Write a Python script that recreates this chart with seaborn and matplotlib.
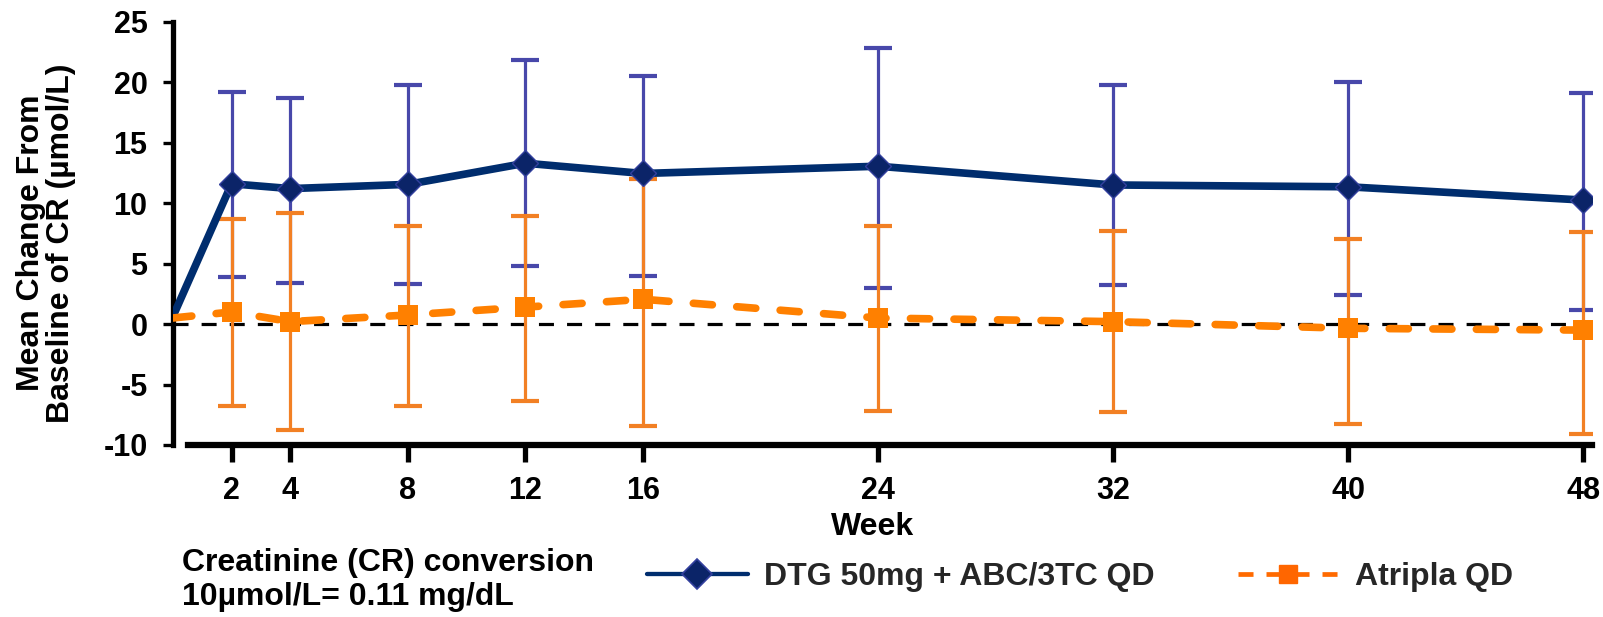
import numpy as np
import pandas as pd
import matplotlib
matplotlib.use("Agg")
import matplotlib.pyplot as plt
from matplotlib.lines import Line2D
import seaborn as sns

# Study weeks and mean change from baseline in creatinine (µmol/L)
weeks = [0, 2, 4, 8, 12, 16, 24, 32, 40, 48]

dtg_mean = [0.6, 11.6, 11.2, 11.55, 13.3, 12.45, 13.05, 11.5, 11.35, 10.25]
dtg_upper = [np.nan, 19.2, 18.65, 19.75, 21.8, 20.5, 22.8, 19.8, 20.0, 19.1]
dtg_lower = [np.nan, 3.9, 3.4, 3.3, 4.8, 4.0, 3.0, 3.2, 2.4, 1.2]

atr_mean = [0.5, 1.0, 0.2, 0.75, 1.4, 2.05, 0.5, 0.2, -0.35, -0.5]
atr_upper = [np.nan, 8.7, 9.15, 8.1, 8.9, 12.0, 8.1, 7.7, 7.0, 7.6]
atr_lower = [np.nan, -6.8, -8.75, -6.75, -6.35, -8.45, -7.15, -7.3, -8.3, -9.05]

arm_names = ["DTG 50mg + ABC/3TC QD", "Atripla QD"]
x_ticks = [2, 4, 8, 12, 16, 24, 32, 40, 48]
y_ticks = [-10, -5, 0, 5, 10, 15, 20, 25]

df = pd.DataFrame({
    "week": weeks * 2,
    "change": dtg_mean + atr_mean,
    "lower": dtg_lower + atr_lower,
    "upper": dtg_upper + atr_upper,
    "arm": [arm_names[0]] * len(weeks) + [arm_names[1]] * len(weeks),
})

sns.set_theme(style="white")
plt.rcParams["font.family"] = ["Liberation Sans", "DejaVu Sans"]
plt.rcParams["font.weight"] = "bold"

TXT = 23
TICK = 22

W, H = 1603, 617
fig = plt.figure(figsize=(W / 100, H / 100), dpi=100)
ax = fig.add_axes([172.8 / W, 1 - 445 / H, 1419.5 / W, 423.3 / H])

navy = "#002D6E"
navy_face = "#0B2468"
navy_edge = "#33409E"
blue_err = "#4848AA"
orange = "#FF8000"
orange_err = "#F28024"

dtg = df[df["arm"] == arm_names[0]]
atr = df[df["arm"] == arm_names[1]]

# error bars (no bar at baseline)
for sub, col, z in [(dtg, blue_err, 2), (atr, orange_err, 3)]:
    s = sub.dropna(subset=["lower", "upper"])
    ax.errorbar(s["week"], s["change"],
                yerr=[s["change"] - s["lower"], s["upper"] - s["change"]],
                fmt="none", ecolor=col, elinewidth=2.3, capsize=10,
                capthick=3.0, zorder=z)

# reference line at zero
ax.axhline(0, color="black", lw=2.3, dashes=(4.7, 4.1), zorder=1.5)

# mean lines
sns.lineplot(data=dtg, x="week", y="change", ax=ax, errorbar=None,
             color=navy, lw=5.5, marker="D", markersize=13,
             markerfacecolor=navy_face, markeredgecolor=navy_edge,
             markeredgewidth=1.0, markevery=list(range(1, len(weeks))),
             zorder=4, legend=False)
sns.lineplot(data=atr, x="week", y="change", ax=ax, errorbar=None,
             color=orange, lw=5.5, linestyle=(0, (2.5, 3.2)),
             dash_capstyle="round", marker="s", markersize=14,
             markerfacecolor=orange, markeredgecolor=orange,
             markeredgewidth=0, markevery=list(range(1, len(weeks))),
             zorder=5, legend=False)

ax.set_xlim(0, 48.3)
ax.set_ylim(-10, 25)
ax.set_xticks(x_ticks)
ax.set_xticklabels([str(t) for t in x_ticks])
ax.set_yticks(y_ticks)
ax.set_yticklabels([str(t) for t in y_ticks])

for side in ["top", "right"]:
    ax.spines[side].set_visible(False)
ax.spines["left"].set_linewidth(3.8)
ax.spines["left"].set_color("black")
ax.spines["bottom"].set_linewidth(4.5)
ax.spines["bottom"].set_color("black")
ax.spines["bottom"].set_bounds(0.52, 48.3)

ax.tick_params(axis="y", left=True, direction="out", length=7.2, width=2.4,
               pad=11, labelsize=TICK, color="black", labelcolor="black")
ax.tick_params(axis="x", bottom=True, direction="out", length=12, width=3.8,
               pad=10, labelsize=TICK, color="black", labelcolor="black")
for lab in ax.get_xticklabels() + ax.get_yticklabels():
    lab.set_fontweight("bold")

ax.set_ylabel("Mean Change From\nBaseline of CR (µmol/L)", fontsize=TXT,
              fontweight="bold", color="black", linespacing=1.0)
ax.yaxis.label.set_verticalalignment("center")
ax.yaxis.set_label_coords(-0.089, 0.477)

ax.set_xlabel("Week", fontsize=TXT, fontweight="bold", color="black")
ax.xaxis.label.set_verticalalignment("center")
ax.xaxis.set_label_coords(0.493, -0.1937)

# conversion note
fig.text(181.7 / W, 1 - 563 / H, "Creatinine (CR) conversion", ha="left",
         va="center", fontsize=TXT, fontweight="bold", color="black")
fig.text(181.7 / W, 1 - 597 / H, "10µmol/L= 0.11 mg/dL", ha="left",
         va="center", fontsize=TXT, fontweight="bold", color="black")

# legend
h1 = Line2D([], [], color=navy, lw=3.1, marker="D", markersize=15,
            markerfacecolor=navy_face, markeredgecolor=navy_edge,
            markeredgewidth=1.2)
h2 = Line2D([], [], color="#FF6A00", lw=3.4, linestyle=(0, (3.18, 2.75)),
            dash_capstyle="butt", marker="s", markersize=13,
            markerfacecolor="#FF6600", markeredgecolor="#FF6600")
fig.legend([h1, h2], arm_names, loc="center left",
           bbox_to_anchor=(647 / W, 1 - 577 / H), ncol=2, frameon=False,
           prop={"size": TXT, "weight": "bold"}, handlelength=72.7 / TXT,
           handletextpad=11.5 / TXT, columnspacing=60 / TXT, borderpad=0,
           borderaxespad=0)

fig.savefig("out.png", dpi=100)
